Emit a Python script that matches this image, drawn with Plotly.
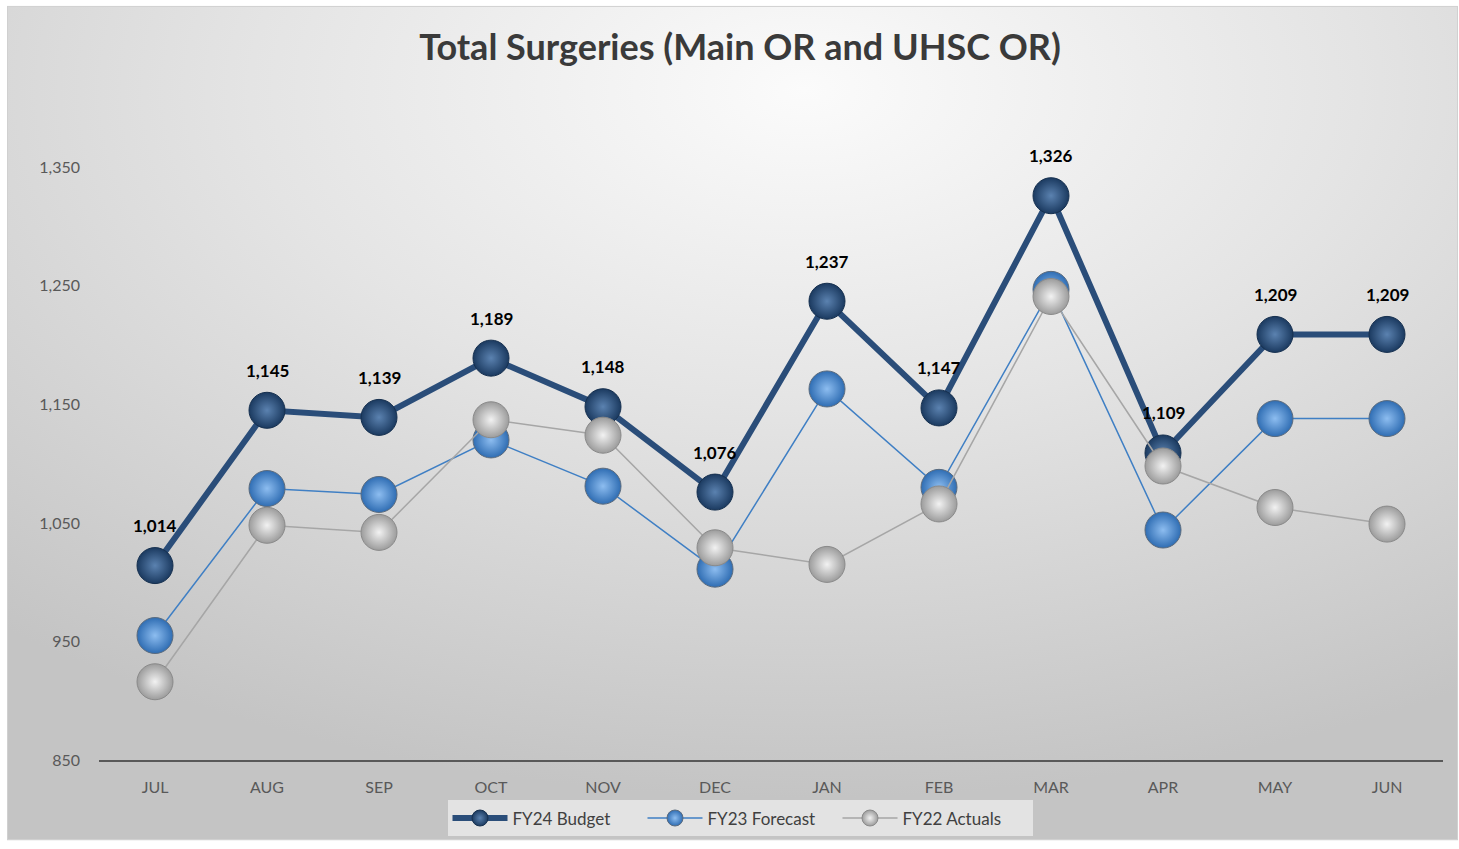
import base64
import plotly.graph_objects as go

months = ["JUL", "AUG", "SEP", "OCT", "NOV", "DEC", "JAN", "FEB", "MAR", "APR", "MAY", "JUN"]
fy24_budget = [1014, 1145, 1139, 1189, 1148, 1076, 1237, 1147, 1326, 1109, 1209, 1209]
fy23_forecast = [955, 1079, 1074, 1120, 1081, 1011, 1163, 1080, 1247, 1044, 1138, 1138]
fy22_actuals = [916, 1048, 1042, 1137, 1124, 1029, 1015, 1066, 1241, 1098, 1063, 1049]

W, H = 1459, 849
L, R, T, B = 99, 16, 108, 83
pw, ph = W - L - R, H - T - B

svg = f"""<svg xmlns='http://www.w3.org/2000/svg' width='{W}' height='{H}'>
<defs><radialGradient id='g' cx='0.55' cy='0.1' r='0.85' gradientUnits='objectBoundingBox'>
<stop offset='0' stop-color='#fbfbfb'/><stop offset='0.45' stop-color='#e4e4e4'/><stop offset='1' stop-color='#c4c4c4'/>
</radialGradient></defs>
<rect x='0' y='0' width='{W}' height='{H}' fill='#ffffff'/>
<rect x='7.5' y='5.5' width='{W-9}' height='{H-8}' fill='url(#g)' stroke='#d0d0d0' stroke-width='1'/>
</svg>"""
src = "data:image/svg+xml;base64," + base64.b64encode(svg.encode()).decode()

fig = go.Figure()
fig.add_trace(go.Scatter(
    x=months, y=fy24_budget, name="FY24 Budget", mode="lines+markers",
    line=dict(color="#2a4d79", width=6),
    marker=dict(size=36, color="#1b3a60", line=dict(color="#16304f", width=1),
                gradient=dict(type="radial", color="#5b82b0")),
    cliponaxis=False,
))
fig.add_trace(go.Scatter(
    x=months, y=fy23_forecast, name="FY23 Forecast", mode="lines+markers",
    line=dict(color="#3f7fc4", width=1.5),
    marker=dict(size=36, color="#2f6db3", line=dict(color="#5b6b7d", width=1),
                gradient=dict(type="radial", color="#8dbdf0")),
    cliponaxis=False,
))
fig.add_trace(go.Scatter(
    x=months, y=fy22_actuals, name="FY22 Actuals", mode="lines+markers",
    line=dict(color="#a6a6a6", width=1.5),
    marker=dict(size=36, color="#9c9c9c", line=dict(color="#8a8a8a", width=1),
                gradient=dict(type="radial", color="#f2f2f2")),
    cliponaxis=False,
))

annotations = [
    dict(x=m, y=v, xref="x", yref="y", text=f"<b>{v:,}</b>", showarrow=False, yshift=40,
         font=dict(family="Lato", size=17, color="#000000"))
    for m, v in zip(months, fy24_budget)
]

fig.update_layout(
    width=W, height=H,
    margin=dict(l=L, r=R, t=T, b=B, pad=0),
    paper_bgcolor="rgba(0,0,0,0)", plot_bgcolor="rgba(0,0,0,0)",
    font=dict(family="Lato", color="#595959", size=16),
    title=dict(text="<b>Total Surgeries (Main OR and UHSC OR)</b>", x=740 / W, xanchor="center",
               y=1 - 47 / H, yanchor="middle", yref="container",
               font=dict(family="Lato", size=36, color="#3a3a3a")),
    showlegend=True,
    legend=dict(orientation="h", x=(740 - L) / pw, xanchor="center", y=(762 - 821) / ph, yanchor="middle",
                bgcolor="#e3e3e3", font=dict(size=17, color="#404040"), itemwidth=55,
                entrywidth=125),
    annotations=annotations,
    xaxis=dict(range=[-0.5, 11.5], showgrid=False, showline=True, linecolor="#595959", linewidth=2, ticks="",
               tickfont=dict(size=16, color="#595959"), zeroline=False, ticklabelstandoff=12),
    yaxis=dict(range=[850, 1400], dtick=100, tick0=850, tickformat=",", showgrid=False, showline=False,
               zeroline=False, ticks="", tickfont=dict(size=16, color="#595959"), ticklabelstandoff=18),
    images=[dict(source=src, xref="paper", yref="paper", x=-L / pw, y=1 + T / ph, sizex=W / pw, sizey=H / ph,
                 xanchor="left", yanchor="top", sizing="stretch", layer="below")],
)

fig.write_html("out.html", config={"displayModeBar": False},
               post_script="document.body.style.margin='0';")
